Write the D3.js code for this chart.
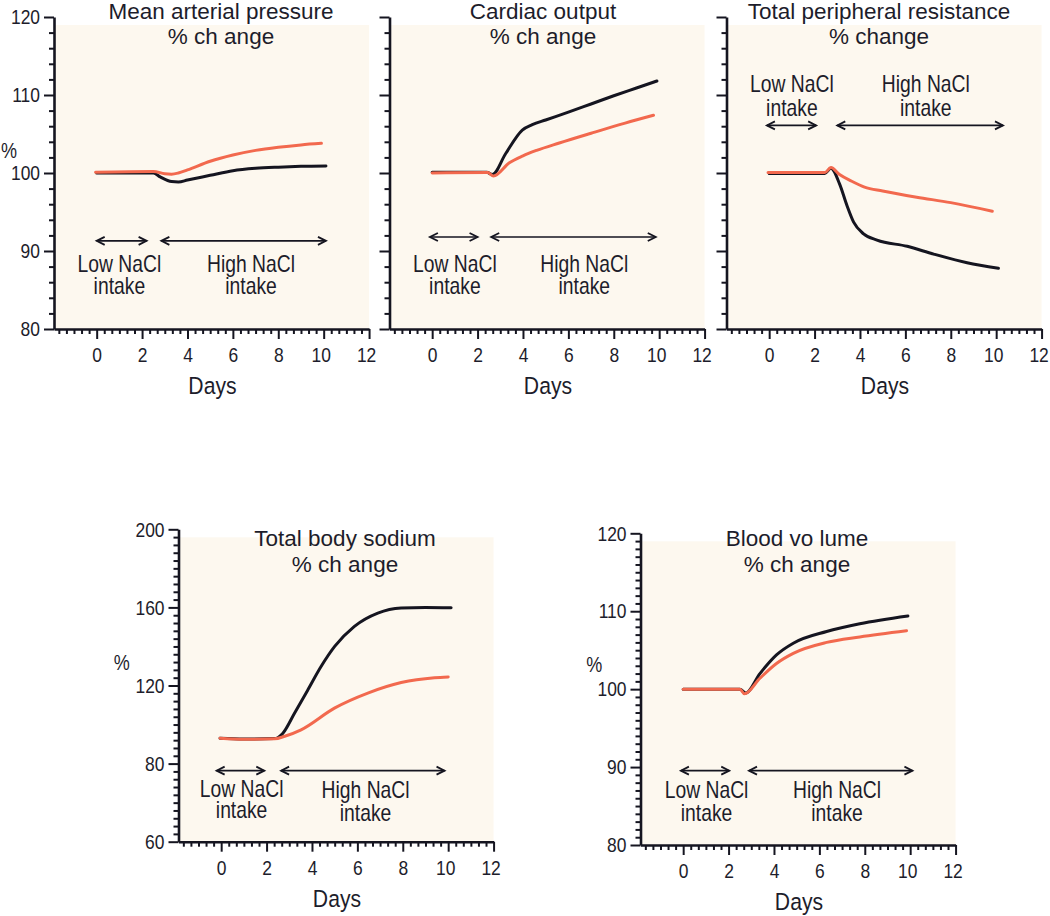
<!DOCTYPE html>
<html><head><meta charset="utf-8">
<script src="https://cdn.jsdelivr.net/npm/d3@7"></script>
<style>body{margin:0;background:#fff;} svg{display:block}</style>
</head><body><svg id="c" width="1050" height="916"></svg>
<script>
// ---------- data (days, % value) ----------
const mapBlack  = [[0,100],[2.5,100],[2.8,99.5],[3.3,98.9],[3.6,98.85],[4,99.1],[5,99.7],[6,100.3],[7,100.6],[8,100.75],[9,100.85],[10.1,100.9]];
const mapOrange = [[-0.05,100.1],[2.5,100.2],[3.0,99.9],[3.3,99.85],[3.6,100.0],[4,100.4],[5,101.5],[6,102.3],[7,102.9],[8,103.3],[9,103.6],[9.9,103.8]];

const coBlack   = [[0,100.1],[2.4,100.1],[2.65,99.8],[3.24,102.5],[3.97,105.5],[4.41,106.2],[5,106.8],[6,107.8],[7,108.85],[8,109.9],[9,110.9],[9.9,111.8]];
const coOrange  = [[0,100],[2.45,100.05],[2.7,99.6],[3.4,101.3],[4,102.2],[4.6,102.9],[5.6,103.85],[7,105.1],[8.5,106.4],[9.75,107.4]];

const tprBlack  = [[0,99.95],[2.45,99.95],[2.72,100.6],[3.1,98.6],[3.43,95.8],[3.72,93.7],[4.16,92.2],[4.75,91.4],[6.08,90.6],[7.25,89.6],[8.72,88.5],[10.1,87.8]];
const tprOrange = [[-0.05,100.05],[2.45,100.05],[2.72,100.7],[3.1,99.8],[3.6,99.0],[4.2,98.2],[5,97.7],[6.5,96.9],[8,96.2],[9.83,95.1]];

const tbsBlack  = [[-0.05,93],[1,92.6],[2.35,92.8],[2.72,95.6],[3.23,105.8],[3.82,117.8],[4.4,129.7],[5,140],[5.87,150.3],[6.9,157.1],[7.93,159.7],[9,160],[10.13,159.8]];
const tbsOrange = [[-0.05,93],[1,92.5],[2.35,92.7],[2.8,94],[3.52,97.3],[4.99,108.4],[6.46,116.1],[7.93,121.5],[9.4,124.0],[10,124.4]];

const bvBlack   = [[0,100],[2.5,100],[2.75,99.5],[3.38,102.0],[4.11,104.4],[4.85,105.9],[6.32,107.4],[7.78,108.4],[9.9,109.4]];
const bvOrange  = [[0,100],[2.5,100],[2.7,99.4],[3.38,101.4],[4.11,103.3],[4.85,104.6],[6.32,106.0],[7.78,106.7],[9.84,107.5]];

// ---------- tick labels ----------
const xTickValues = [0,2,4,6,8,10,12];
const xTickLabels = ["0","2","4","6","8","10","12"];
const yTicks100   = [80,90,100,110,120];
const yLabels100  = ["80","90","100","110","120"];
const yTicksTbs   = [40,80,120,160,200];
const yLabelsTbs  = ["60","80","120","160","200"];

// ---------- titles ----------
const titles = [
  ["Mean arterial pressure","% ch ange"],
  ["Cardiac output","% ch ange"],
  ["Total peripheral resistance","% change"],
  ["Total body sodium","% ch ange"],
  ["Blood vo lume","% ch ange"]
];
const lowLabel = ["Low NaCl","intake"];
const highLabel = ["High NaCl","intake"];

// ---------- layout ----------
const panels = [
  {left:54,   top:17,    bottom:329,   yDomain:[80,120],  yMajor:yTicks100, yLabels:yLabels100, yMinor:2, showY:true,
   title:titles[0], titleX:221, titleY:[18.5,44], black:mapBlack, orange:mapOrange,
   arrowY:91.3, low:[0,2.2], high:[2.85,10.1], lowTxt:[1.0,88.3,85.5], highTxt:[6.8,88.3,85.5], pct:[9,102.95]},
  {left:389.5,top:17,    bottom:329,   yDomain:[80,120],  yMajor:yTicks100, yLabels:yLabels100, yMinor:2, showY:false,
   title:titles[1], titleX:543, titleY:[18.5,44], black:coBlack, orange:coOrange,
   arrowY:91.8, low:[-0.1,2.0], high:[2.6,9.85], lowTxt:[1.0,88.3,85.5], highTxt:[6.7,88.3,85.5], pct:null},
  {left:726.5,top:17,    bottom:329,   yDomain:[80,120],  yMajor:yTicks100, yLabels:yLabels100, yMinor:2, showY:false,
   title:titles[2], titleX:879, titleY:[18.5,44], black:tprBlack, orange:tprOrange,
   arrowY:106.1, low:[-0.1,2.07], high:[3.0,10.3], lowTxt:[1.0,111.4,108.4], highTxt:[6.9,111.4,108.4], pct:null},
  {left:178.5,top:529.3, bottom:841.7, yDomain:[40,200],  yMajor:yTicksTbs, yLabels:yLabelsTbs, yMinor:4, showY:true,
   title:titles[3], titleX:345, titleY:[546,571.5], black:tbsBlack, orange:tbsOrange,
   arrowY:76.4, low:[-0.2,1.9], high:[2.64,9.84], lowTxt:[0.9,67.3,56.2], highTxt:[6.36,66.5,54.6], pct:[121.7,131.9]},
  {left:640.5,top:533.3, bottom:845,   yDomain:[80,120],  yMajor:yTicks100, yLabels:yLabels100, yMinor:1, showY:true,
   title:titles[4], titleX:797, titleY:[546,571.5], black:bvBlack, orange:bvOrange,
   arrowY:89.54, low:[-0.1,2.03], high:[2.9,10.1], lowTxt:[1.03,87.06,84.07], highTxt:[6.78,87.06,84.07], pct:[594.3,103.2]}
];

const X_MIN = -1.88, DAY_PX = 22.7;
const CREAM = "#fdf8ef", ORANGE = "#f2694e", INK = "#151520", TXT = "#1d1d2b";
const FONT = "'Liberation Sans',Arial,Helvetica,sans-serif";

const svg = d3.select("#c");

// place a horizontally condensed text
function ctext(g, px, py, str, size, k, anchor, baseline) {
  return g.append("text")
    .attr("transform", `translate(${px},${py}) scale(${k},1)`)
    .attr("text-anchor", anchor || "middle")
    .attr("dominant-baseline", baseline || "central")
    .attr("fill", TXT).style("font-family", FONT).style("font-size", size + "px")
    .text(str);
}

panels.forEach(p => {
  const x = d3.scaleLinear().domain([X_MIN,12]).range([p.left, p.left + (12 - X_MIN)*DAY_PX]);
  const y = d3.scaleLinear().domain(p.yDomain).range([p.bottom, p.top]);
  const g = svg.append("g");

  // cream background
  g.append("rect").attr("x", x(X_MIN)).attr("y", p.top + 8)
    .attr("width", x(12) - x(X_MIN)).attr("height", p.bottom - p.top - 8).attr("fill", CREAM);

  // minor y ticks
  const yMinorVals = d3.range(p.yDomain[0], p.yDomain[1] + 0.001, p.yMinor).filter(v => !p.yMajor.includes(v));
  const gyMin = g.append("g").attr("transform", `translate(${x(X_MIN)},0)`)
    .call(d3.axisLeft(y).tickValues(yMinorVals).tickSize(5).tickSizeOuter(0).tickFormat(""));
  gyMin.select(".domain").remove();

  // major y ticks
  const gy = g.append("g").attr("transform", `translate(${x(X_MIN)},0)`)
    .call(d3.axisLeft(y).tickValues(p.yMajor).tickSize(10).tickSizeOuter(0).tickPadding(4)
      .tickFormat((d,i) => p.showY ? p.yLabels[i] : ""));

  // minor x ticks
  const xMinorVals = d3.range(-5, 37).filter(k => k % 6 !== 0).map(k => k/3);
  const gxMin = g.append("g").attr("transform", `translate(0,${p.bottom})`)
    .call(d3.axisBottom(x).tickValues(xMinorVals).tickSize(5).tickSizeOuter(0).tickFormat(""));
  gxMin.select(".domain").remove();

  const gx = g.append("g").attr("transform", `translate(0,${p.bottom})`)
    .call(d3.axisBottom(x).tickValues(xTickValues).tickSize(10).tickSizeOuter(0).tickPadding(8)
      .tickFormat((d,i) => xTickLabels[i]));

  const K = 0.83;
  [gy, gx].forEach(a => {
    a.select(".domain").attr("stroke", INK).attr("stroke-width", 2.6);
    a.selectAll(".tick text").each(function(d) {
      const t = d3.select(this);
      let tx = +t.attr("x") || 0;
      if (a === gx && d >= 10) tx -= 3;   // two-digit day labels sit slightly left
      t.attr("x", tx / K).attr("transform", `scale(${K},1)`)
       .attr("fill", TXT).style("font-family", FONT).style("font-size", "21px");
    });
  });
  [gy, gx, gyMin, gxMin].forEach(a => a.selectAll(".tick line").attr("stroke", INK).attr("stroke-width", 2));

  // lines
  const line = d3.line().x(d => x(d[0])).y(d => y(d[1])).curve(d3.curveMonotoneX);
  g.append("path").datum(p.black).attr("d", line).attr("fill","none").attr("stroke", INK)
    .attr("stroke-width", 3).attr("stroke-linecap","round").attr("stroke-linejoin","round");
  g.append("path").datum(p.orange).attr("d", line).attr("fill","none").attr("stroke", ORANGE)
    .attr("stroke-width", 3).attr("stroke-linecap","round").attr("stroke-linejoin","round");

  // double arrows
  const ay = y(p.arrowY);
  [p.low, p.high].forEach(r => {
    const x1 = x(r[0]), x2 = x(r[1]);
    g.append("line").attr("x1", x1).attr("x2", x2).attr("y1", ay).attr("y2", ay)
      .attr("stroke", INK).attr("stroke-width", 1.6);
    g.append("path").attr("d", `M${x1+8},${ay-4}L${x1},${ay}L${x1+8},${ay+4}M${x2-8},${ay-4}L${x2},${ay}L${x2-8},${ay+4}`)
      .attr("fill","none").attr("stroke", INK).attr("stroke-width", 1.8);
  });

  // labels
  const addTxt = (txt, spec) => {
    [0,1].forEach(i => ctext(g, x(spec[0]), y(spec[i+1]), txt[i], 23, 0.84));
  };
  addTxt(lowLabel, p.lowTxt);
  addTxt(highLabel, p.highTxt);

  // title
  p.title.forEach((t,i) => g.append("text").attr("x", p.titleX).attr("y", p.titleY[i])
    .attr("text-anchor","middle").attr("fill", TXT).style("font-family", FONT).style("font-size","22.5px").text(t));

  // Days
  ctext(g, x(5.1), p.bottom + 57, "Days", 23.5, 0.9);

  // %
  if (p.pct) ctext(g, p.pct[0], y(p.pct[1]), "%", 22, 0.82);
});
</script></body></html>
